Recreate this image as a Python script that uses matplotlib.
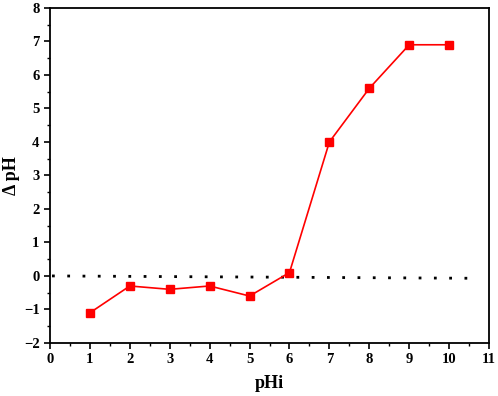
import matplotlib
matplotlib.use("Agg")
import matplotlib.pyplot as plt
from matplotlib.ticker import MultipleLocator

# values
phi = [1, 2, 3, 4, 5, 6, 7, 8, 9, 10]
delta_ph = [-1.1, -0.3, -0.4, -0.3, -0.6, 0.1, 4.0, 5.6, 6.9, 6.9]
ref_x = [0.05, 10.6]
ref_y = [0.0, -0.07]

plt.rcParams['font.family'] = ['Liberation Serif', 'DejaVu Serif']
plt.rcParams['font.weight'] = 'bold'

fig = plt.figure(figsize=(4.98, 3.96), dpi=100)
ax = fig.add_axes([0.1004, 0.134, 0.8816, 0.846])

ax.plot(ref_x, ref_y, color='black', linestyle=(0, (1.0, 4.5)), linewidth=2.0)
ax.plot(phi, delta_ph, color='#ff0000', linewidth=1.2, marker='s', markersize=6)

ax.set_xlim(0, 11)
ax.set_ylim(-2, 8)
ax.xaxis.set_major_locator(MultipleLocator(1))
ax.xaxis.set_minor_locator(MultipleLocator(0.5))
ax.yaxis.set_major_locator(MultipleLocator(1))
ax.yaxis.set_minor_locator(MultipleLocator(0.5))
ax.tick_params(which='major', direction='out', length=4, width=1.2, labelsize=10.5)
ax.tick_params(which='minor', direction='out', length=2.5, width=1.0)
for s in ax.spines.values():
    s.set_linewidth(1.3)
for lab in ax.get_xticklabels() + ax.get_yticklabels():
    lab.set_fontweight('bold')

ax.set_xlabel('pHi', fontsize=13, fontweight='bold', labelpad=6)
ax.set_ylabel('Δ pH', fontsize=13, fontweight='bold', labelpad=3)

fig.savefig('out.png', dpi=100)
